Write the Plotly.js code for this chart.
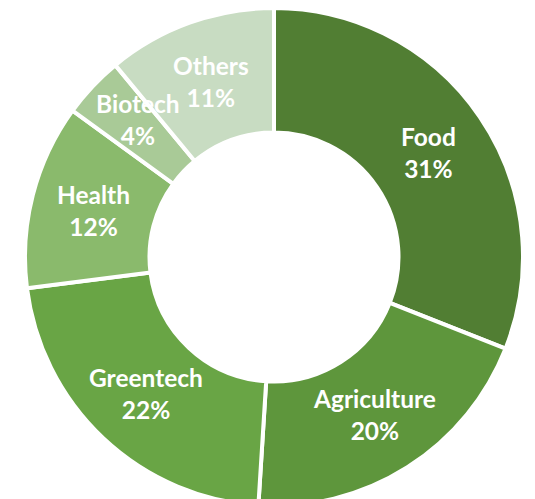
<!DOCTYPE html>
<html>
<head>
<meta charset="utf-8">
<script src="https://cdn.plot.ly/plotly-3.0.1.min.js"></script>
<style>
html,body{margin:0;padding:0;overflow:hidden;background:#fff;}
#chart{width:535px;height:514px;}
</style>
</head>
<body>
<div id="chart"></div>
<script>
const labels = ['Food', 'Agriculture', 'Greentech', 'Health', 'Biotech', 'Others'];
const values = [31, 20, 22, 12, 4, 11];
const colors = ['#517e33', '#5e963c', '#69a545', '#8aba6c', '#a9ca97', '#c8dcc2'];

// layout / style settings
const W = 535, H = 514;
const cx = 274, cy = 257, R = 249, hole = 0.5;
const domX = [(cx - R) / W, (cx + R) / W];
const domY = [(H - cy - R) / H, (H - cy + R) / H];
const labelNudgeY = {Biotech: 10, Food: 0};

const total = values.reduce((a, b) => a + b, 0);
const rText = R * (1 + hole) / 2;
const annotations = [];
let acc = 0;
values.forEach((v, i) => {
  const mid = (acc + v / 2) / total * 2 * Math.PI;
  acc += v;
  const px = cx + rText * Math.sin(mid);
  const py = cy - rText * Math.cos(mid);
  annotations.push({
    x: px / W, y: 1 - py / H, xref: 'paper', yref: 'paper',
    yshift: labelNudgeY[labels[i]] || 0,
    text: '<b>' + labels[i] + '<br>' + v + '%</b>',
    showarrow: false, xanchor: 'center', yanchor: 'middle',
    font: {family: 'Lato, "Open Sans", sans-serif', size: 24.5, color: '#ffffff'}
  });
});

const trace = {
  type: 'pie',
  labels: labels,
  values: values,
  sort: false,
  direction: 'clockwise',
  rotation: 0,
  hole: hole,
  textinfo: 'none',
  hoverinfo: 'none',
  marker: {colors: colors, line: {color: '#ffffff', width: 4}},
  domain: {x: domX, y: domY}
};

Plotly.newPlot('chart', [trace], {
  width: W, height: H,
  margin: {l: 0, r: 0, t: 0, b: 0},
  showlegend: false,
  paper_bgcolor: '#ffffff',
  annotations: annotations
}, {staticPlot: true});
</script>
</body>
</html>
